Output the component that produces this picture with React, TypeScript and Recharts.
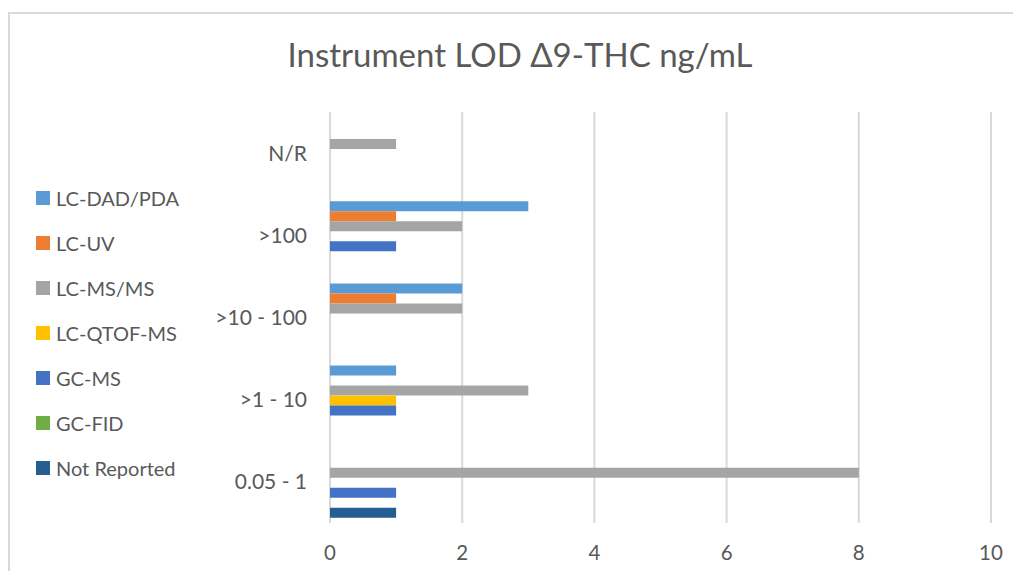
import { Bar, BarChart, CartesianGrid, Legend, XAxis, YAxis } from "recharts"

const categories = ["N/R", ">100", ">10 - 100", ">1 - 10", "0.05 - 1"]

// counts per LOD range, listed top row first
const notReported = [0, 0, 0, 0, 1]
const gcFid = [0, 0, 0, 0, 0]
const gcMs = [0, 1, 0, 1, 1]
const lcQtofMs = [0, 0, 0, 1, 0]
const lcMsMs = [1, 2, 2, 3, 8]
const lcUv = [0, 1, 1, 0, 0]
const lcDadPda = [0, 3, 2, 1, 0]

const xTicks = [0, 2, 4, 6, 8, 10]

// top-to-bottom order inside each band (same as the legend)
const series = [
  { key: "lcDadPda", name: "LC-DAD/PDA", color: "#5B9BD5", values: lcDadPda },
  { key: "lcUv", name: "LC-UV", color: "#ED7D31", values: lcUv },
  { key: "lcMsMs", name: "LC-MS/MS", color: "#A5A5A5", values: lcMsMs },
  { key: "lcQtofMs", name: "LC-QTOF-MS", color: "#FFC000", values: lcQtofMs },
  { key: "gcMs", name: "GC-MS", color: "#4472C4", values: gcMs },
  { key: "gcFid", name: "GC-FID", color: "#70AD47", values: gcFid },
  { key: "notReported", name: "Not Reported", color: "#255E91", values: notReported },
]

const data = categories.map((range, i) => {
  const row: Record<string, string | number> = { range }
  series.forEach((s) => {
    row[s.key] = s.values[i]
  })
  return row
})

const FONT = "Lato, 'Open Sans', sans-serif"
const TEXT = "#595959"

function LegendBox() {
  return (
    <div style={{ fontFamily: FONT, fontSize: 20, color: TEXT }}>
      {series.map((s) => (
        <div
          key={s.key}
          style={{ display: "flex", alignItems: "center", height: 14, marginBottom: 31, whiteSpace: "nowrap" }}
        >
          <span style={{ width: 14, height: 14, background: s.color, marginRight: 6, flex: "none" }} />
          <span style={{ lineHeight: "14px" }}>{s.name}</span>
        </div>
      ))}
    </div>
  )
}

export default function App() {
  return (
    <div
      style={{
        position: "relative",
        width: 1013,
        height: 563,
        background: "#fff",
      }}
    >
      <div
        style={{
          position: "absolute",
          left: 0,
          top: 4,
          width: 1013,
          height: 559,
          borderTop: "2px solid #d9d9d9",
          borderLeft: "2px solid #d9d9d9",
          boxSizing: "border-box",
        }}
      />
      <div
        style={{
          position: "absolute",
          left: 0,
          top: 30,
          width: 1024,
          textAlign: "center",
          fontFamily: FONT,
          fontSize: 33,
          lineHeight: "33px",
          color: TEXT,
        }}
      >
        Instrument LOD Δ9-THC ng/mL
      </div>
      <BarChart
        width={1013}
        height={563}
        data={data}
        layout="vertical"
        margin={{ top: 104, right: 30, bottom: 18, left: 0 }}
        barCategoryGap={7}
        barGap={0}
        style={{ position: "absolute", left: 0, top: 0 }}
      >
        <CartesianGrid horizontal={false} stroke="#d9d9d9" strokeWidth={2} />
        <XAxis
          type="number"
          domain={[0, 10]}
          ticks={xTicks}
          axisLine={false}
          tickLine={false}
          height={30}
          tickMargin={16}
          tick={{ fill: TEXT, fontSize: 20.5, fontFamily: FONT }}
        />
        <YAxis
          type="category"
          dataKey="range"
          width={322}
          axisLine={false}
          tickLine={false}
          tickMargin={17}
          tick={{ fill: TEXT, fontSize: 21, fontFamily: FONT }}
        />
        <Legend
          layout="vertical"
          align="center"
          verticalAlign="middle"
          wrapperStyle={{ left: 28, top: 183, width: 220 }}
          content={() => <LegendBox />}
        />
        {series.map((s) => (
          <Bar key={s.key} dataKey={s.key} name={s.name} fill={s.color} isAnimationActive={false} />
        ))}
      </BarChart>
    </div>
  )
}
